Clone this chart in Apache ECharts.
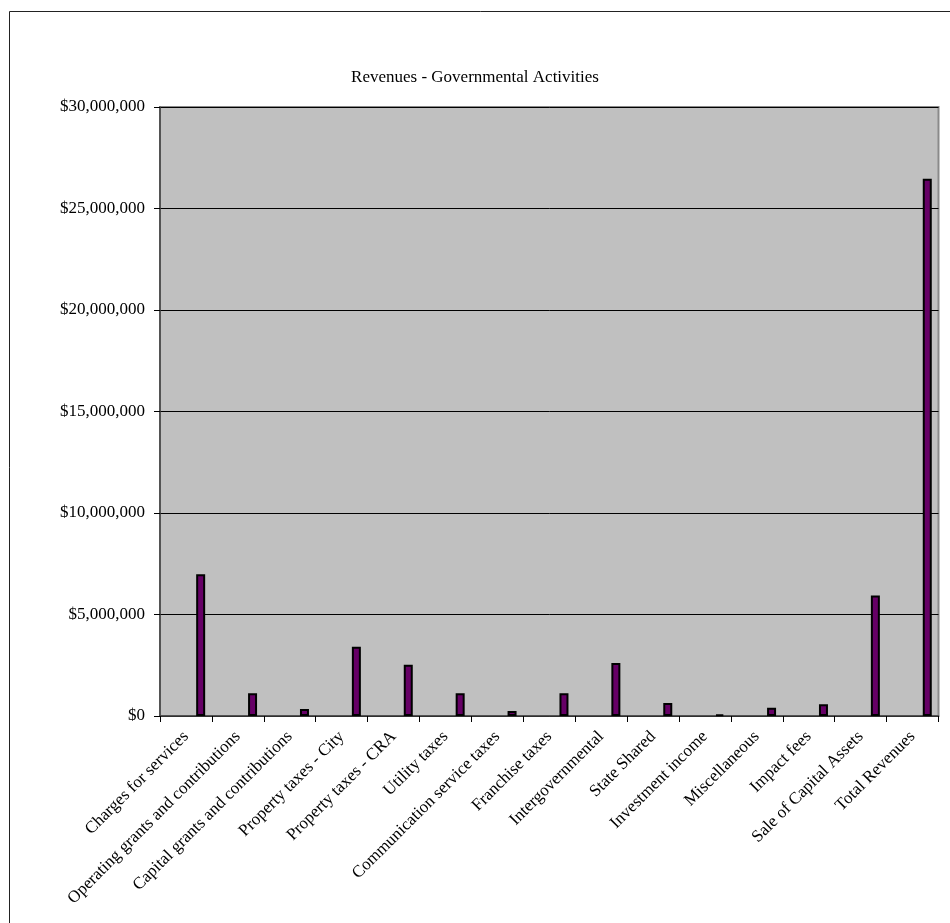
<!DOCTYPE html>
<html>
<head>
<meta charset="utf-8">
<script src="https://cdn.jsdelivr.net/npm/echarts@6/dist/echarts.min.js"></script>
<style>
  html, body { margin: 0; padding: 0; background: #fff; }
  #chart { width: 950px; height: 923px; }
</style>
</head>
<body>
<div id="chart"></div>
<script>
const categories = [
  'Charges for services',
  'Operating grants and contributions',
  'Capital grants and contributions',
  'Property taxes - City',
  'Property taxes - CRA',
  'Utility taxes',
  'Communication service taxes',
  'Franchise taxes',
  'Intergovernmental',
  'State Shared',
  'Investment income',
  'Miscellaneous',
  'Impact fees',
  'Sale of Capital Assets',
  'Total Revenues'
];
const revenues = [
  6980000, 1120000, 340000, 3410000, 2530000, 1120000, 250000, 1120000,
  2610000, 640000, 80000, 410000, 580000, 5930000, 26470000
];
const yTicks = [0, 5000000, 10000000, 15000000, 20000000, 25000000, 30000000];

const chart = echarts.init(document.getElementById('chart'));
const serif = '"Liberation Serif", "Times New Roman", serif';

const option = {
  animation: false,
  backgroundColor: '#fff',
  textStyle: { fontFamily: serif },
  title: {
    text: 'Revenues - Governmental Activities',
    left: 'center',
    top: 64,
    textStyle: { fontFamily: serif, fontSize: 17, fontWeight: 'normal', color: '#000' }
  },
  graphic: [{
    type: 'rect',
    shape: { x: 9.5, y: 11.5, width: 960, height: 940 },
    style: { fill: 'none', stroke: '#222', lineWidth: 1 },
    silent: true
  }],
  grid: {
    left: 160, top: 107, right: 11.5, bottom: 207,
    show: true,
    backgroundColor: '#C0C0C0',
    borderColor: '#8a8a8a',
    borderWidth: 2
  },
  xAxis: {
    type: 'category',
    data: categories,
    boundaryGap: true,
    axisLine: { show: true, lineStyle: { color: '#404040', width: 1.5 } },
    axisTick: { show: true, length: 6, lineStyle: { color: '#000' } },
    axisLabel: {
      rotate: 45,
      interval: 0,
      margin: 18,
      fontFamily: serif,
      fontSize: 17,
      color: '#000'
    }
  },
  yAxis: {
    type: 'value',
    min: yTicks[0],
    max: yTicks[yTicks.length - 1],
    interval: yTicks[1] - yTicks[0],
    axisLine: { show: true, lineStyle: { color: '#404040', width: 1.5 } },
    axisTick: { show: true, length: 6, lineStyle: { color: '#000' } },
    axisLabel: {
      margin: 15,
      fontFamily: serif,
      fontSize: 17,
      color: '#000',
      formatter: v => '$' + v.toLocaleString('en-US')
    },
    splitLine: { show: true, lineStyle: { color: '#000', width: 1 } }
  },
  series: [
    {
      type: 'bar',
      name: 'spacer',
      data: categories.map(() => '-'),
      barWidth: 9,
      barGap: '227%'
    },
    {
      type: 'bar',
      name: 'Revenues',
      data: revenues,
      barWidth: 9,
      barGap: '227%',
      itemStyle: { color: '#660066', borderColor: '#000', borderWidth: 2 }
    }
  ]
};

chart.setOption(option);
</script>
</body>
</html>
